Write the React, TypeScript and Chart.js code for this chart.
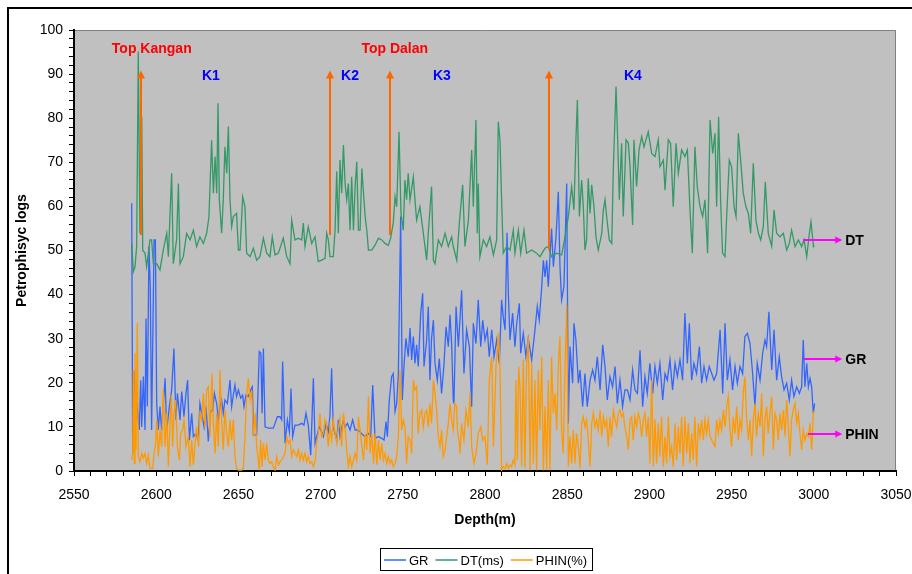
import React, { useEffect, useRef } from 'react';
import { Chart, registerables } from 'chart.js';

Chart.register(...registerables);

// ---------- axes ----------
const X_MIN = 2550;
const X_MAX = 3050;
const X_STEP = 10;
const X_LABEL_EVERY = 50;
const Y_MIN = 0;
const Y_MAX = 100;
const Y_STEP = 2;
const Y_LABEL_EVERY = 10;

// ---------- series ----------
const SERIES_LABELS = ['GR', 'DT(ms)', 'PHIN(%)'];
const SERIES_COLORS = ['#3366FF', '#339966', '#FF9900'];

// [depth (m), value]
const GR_POINTS = [
  [2585.1,60.7],[2585.7,4],[2586.5,22.9],[2587.5,11.6],[2588.5,14.6],[2589.7,9.3],[2590.6,20.6],[2591.2,10],[2592.2,21.4],[2593.2,9.3],[2593.8,34.6],[2594.6,14.6],[2595.6,50.9],[2596.4,41.8],[2597.2,9.3],[2598.7,52.4],[2599.5,52.4],[2600.3,15.3],[2601.3,9.3],[2602.3,14.6],[2603.3,9.3],[2605.4,21],[2606.4,9.3],[2608,14.6],[2609.4,18.4],[2610.8,27.8],[2612,11.6],[2612.9,17.6],[2614.5,11.6],[2615.5,18],[2616.9,12.3],[2618.1,17.6],[2619.1,20.6],[2620.2,7],[2621.6,13.1],[2622.6,7.8],[2624.2,8.5],[2625.6,7],[2626.6,15.3],[2627.7,13.1],[2629.1,10],[2630.3,14.6],[2631.7,6.7],[2633.1,13.5],[2634.4,13.8],[2635.4,17.6],[2636.8,15.3],[2637.8,11.6],[2638.8,14.6],[2639.8,16.1],[2640.8,13.1],[2641.8,16.1],[2643.3,15.3],[2644.9,20.6],[2645.9,14.6],[2646.9,17.2],[2647.9,19.5],[2648.9,16.9],[2650,18.4],[2651.4,16.5],[2652.6,17.2],[2653.4,14.6],[2654.6,17.2],[2656,16.9],[2657.5,18.4],[2658.5,19.1],[2659.1,8.2],[2661.1,8.2],[2662.7,27.1],[2663.7,26.7],[2664.4,13.1],[2665.2,27.8],[2666.2,10],[2668.2,9.7],[2671.2,9.7],[2672.3,10.8],[2673.7,12.3],[2675.3,12.3],[2676.3,11.6],[2676.9,24.8],[2678.4,6.3],[2679.8,11.6],[2681,8.9],[2682,18.7],[2683,7.8],[2684.4,10.4],[2686.5,10.4],[2688.5,10.8],[2689.9,10.4],[2691.1,13.1],[2692.5,10.4],[2694,3.6],[2695.6,21],[2696.6,6.3],[2697.6,7.8],[2699.2,10],[2700.6,8.9],[2701.7,7.8],[2703.3,10.8],[2704.7,8.9],[2705.7,12.7],[2706.7,23.3],[2707.7,10],[2709.8,7],[2710.8,11.6],[2711.8,7.8],[2713.9,11.6],[2714.9,10],[2716.3,10.8],[2717.9,9.3],[2719.5,11.6],[2721,9.3],[2722.3,9.3],[2724,8.9],[2725.6,8.2],[2727.1,7.8],[2729.1,8.5],[2730.5,7.8],[2731.7,19.5],[2733.1,7.4],[2735.2,7.8],[2737.2,7.4],[2738.6,7],[2739.8,11.2],[2740.6,7.8],[2741.8,16.1],[2743.2,21.4],[2744.2,22.1],[2745.3,13.5],[2746.3,15.3],[2747.3,22.1],[2748.7,57.7],[2749.7,16.1],[2750.7,23.7],[2751.9,30.1],[2753.3,25.9],[2754.4,32.4],[2755.4,25.2],[2756.4,30.5],[2757.4,24.4],[2758.4,28.6],[2759.4,23.7],[2760.9,35.8],[2762.1,40.3],[2762.9,23.7],[2764.5,29.7],[2765.5,37.3],[2766.5,20.6],[2767.5,30.1],[2768.6,34.2],[2769.6,24.4],[2771,20.6],[2772.2,25.5],[2773.6,17.6],[2775.1,24.4],[2776.3,32.7],[2777.7,28.2],[2778.7,35.4],[2779.7,28.9],[2780.7,16.1],[2781.1,15.3],[2782.4,37.3],[2783.8,28.2],[2785.8,41],[2787.2,22.1],[2788.8,32],[2790.5,28.2],[2791.9,14.6],[2792.9,33.5],[2794.5,28.9],[2795.9,38.8],[2797.4,28.2],[2798.6,34.2],[2800,29.7],[2801.4,32],[2802.6,25.9],[2804.1,32],[2805.5,25.9],[2807.1,29.7],[2808.7,24.4],[2810.1,38.8],[2811.1,35],[2812.2,32],[2813.4,54],[2814.2,40.3],[2815.2,29.7],[2816.8,35.8],[2818.2,28.2],[2819.3,33.5],[2820.9,38],[2821.7,26.7],[2823.3,31.2],[2824.9,25.9],[2826.3,30.1],[2828.4,25.2],[2830.4,32],[2831.8,37.3],[2833,34.2],[2834.5,41.8],[2835.5,47.8],[2836.5,44],[2837.5,47.8],[2838.5,41.8],[2840.5,55],[2841.6,46.3],[2843.2,53.1],[2844.6,63.3],[2845.6,46.3],[2846.6,38.8],[2848,41.8],[2849.7,65.2],[2850.7,10.8],[2851.7,28.2],[2853.3,19.9],[2854.1,33.5],[2855.3,29.7],[2856.8,19.9],[2857.8,22.9],[2859.4,14.6],[2860.8,22.1],[2862.2,14.6],[2863.9,20.6],[2865.5,22.9],[2866.9,20.6],[2868.3,25.9],[2870,18.4],[2871.6,28.6],[2873,23.7],[2874.4,16.1],[2876,21.4],[2877.6,19.1],[2879.1,23.7],[2880.5,15.3],[2882.1,20.6],[2883.7,14.6],[2885.1,18.4],[2886.6,18.4],[2888.2,16.1],[2889.8,22.9],[2891.2,18.4],[2892.7,17.6],[2894.3,27.4],[2895.9,14.6],[2897.3,21.4],[2898.7,17.6],[2900.3,24.4],[2902,17.6],[2903.4,23.7],[2904.8,19.9],[2906.4,24.4],[2908.1,16.1],[2909.5,22.1],[2910.9,20.6],[2912.5,25.2],[2914.1,18.4],[2915.6,24.4],[2917,21.4],[2918.6,25.2],[2920.2,20.6],[2921.6,35.8],[2923.1,24.4],[2924.3,33.5],[2925.7,20.6],[2927.1,24.4],[2928.7,22.1],[2930.4,28.2],[2931.8,19.9],[2933.2,23.7],[2934.8,20.6],[2936.4,23.7],[2937.9,22.1],[2939.3,20.6],[2940.9,22.1],[2943,32],[2944.6,17.6],[2946,33.5],[2947.4,20.6],[2949,25.2],[2950.6,18.4],[2952.1,23.7],[2953.5,19.9],[2955.1,23.7],[2956.7,22.1],[2958.1,30.5],[2959.6,31.2],[2961.2,28.9],[2962.8,22.1],[2964.2,14.6],[2965.6,24.4],[2967.3,20.6],[2968.9,26.7],[2970.3,29.7],[2971.3,28.2],[2972.7,36.1],[2974.4,22.9],[2975.8,32],[2977.4,20.6],[2979,25.9],[2980.4,21.4],[2981.9,18.4],[2983.5,19.9],[2985.1,16.1],[2986.5,20.6],[2987.9,16.9],[2989.6,19.1],[2991.2,17.6],[2992.6,19.1],[2993.6,29.7],[2994.6,19.1],[2995.7,24.4],[2996.7,19.1],[2997.7,21],[2998.7,19.1],[2999.7,13.1],[3000.5,15.3]
];

const DT_POINTS = [
  [2585.1,51.6],[2586.1,45.2],[2587.1,46.3],[2588.1,50.9],[2589.1,95.1],[2590.1,53.9],[2591.2,80.3],[2591.8,50],[2593.2,49.4],[2594.2,46.3],[2596.2,52.4],[2597.2,52.4],[2598.3,47],[2600.3,47],[2602.3,45.6],[2604.3,50.1],[2606.4,53.9],[2607.4,48.6],[2609.4,67.5],[2610.4,47],[2612.4,52.4],[2613.5,65.2],[2614.5,47],[2616.5,48.6],[2618.5,53.9],[2620.6,52.4],[2622.6,54.6],[2624.6,50.9],[2626.6,53.1],[2628.7,51.6],[2630.7,53.9],[2632.1,57.7],[2633.7,75],[2634.8,63],[2635.8,71.3],[2636.8,63],[2637.6,83.4],[2638.4,61.5],[2639.8,53.9],[2640.8,61.5],[2641.8,73.5],[2642.9,67.5],[2643.9,78.1],[2644.9,61.5],[2645.9,55.4],[2646.9,57.7],[2648.9,58.4],[2650,50.1],[2651,50.1],[2652.6,62.2],[2654,59.9],[2655,49.4],[2657.1,48.6],[2659.1,50.5],[2661.1,47.8],[2663.1,48.6],[2665.2,52.8],[2667.2,49.4],[2669.2,48.6],[2670.6,53.1],[2672.3,49],[2674.3,49.4],[2677.3,52.8],[2679.4,48.6],[2681.4,47],[2682.4,56.9],[2684.4,52.4],[2686.5,52.8],[2688.5,52.4],[2689.5,56.2],[2690.5,50.9],[2692.5,55.4],[2694.6,51.6],[2696.6,53.1],[2698.6,47.5],[2700.6,47.8],[2702.7,48.2],[2703.7,53.9],[2704.7,52.4],[2705.7,48.6],[2707.7,48.6],[2708.8,54.6],[2709.8,67.9],[2710.8,53.9],[2711.8,70.5],[2712.8,63],[2713.9,73.9],[2714.9,65.2],[2715.9,61.5],[2716.9,65.2],[2717.9,54.6],[2718.9,66.7],[2720,54.6],[2721,64.5],[2722,70.1],[2723,54.6],[2724,54.6],[2725.1,68.6],[2726.1,63],[2727.1,57.7],[2728.1,54.6],[2729.1,50.1],[2731.1,50.1],[2733.1,51.2],[2735.2,52.8],[2737.2,52.4],[2739.2,51.6],[2741.2,51.2],[2742.6,52.8],[2744.2,56.2],[2745.3,62.2],[2746.3,59.9],[2747.7,76.9],[2748.9,58.4],[2750.3,54.6],[2751.3,66],[2752.3,61.5],[2753.3,67.5],[2754.4,61.5],[2756.4,66.7],[2757.4,61.5],[2758.4,56.9],[2760.4,59.9],[2762.5,53.9],[2764.5,47.8],[2765.5,53.9],[2767.5,64.5],[2768.6,47.8],[2769.6,47],[2771.6,52.4],[2773.6,50.9],[2775.7,53.9],[2777.7,50.9],[2779.7,53.1],[2780.7,50.9],[2782.8,47.8],[2784.4,56.2],[2786.4,64.9],[2787.8,50.9],[2789.9,56.9],[2791.9,72.8],[2792.9,59.9],[2794.5,79.6],[2795.3,53.9],[2795.9,65.2],[2796.9,48.6],[2799,52.4],[2801,50.9],[2803,53.1],[2805.1,49],[2807.1,52.4],[2808.1,79.2],[2809.1,75.1],[2810.1,61.5],[2811.1,49.4],[2813.2,50.9],[2815.2,50.1],[2817.2,54.6],[2818.2,49.4],[2820.3,54.6],[2821.7,49.4],[2823.7,54.6],[2825.3,49.4],[2828.4,50.1],[2831.4,49.4],[2833.4,48.6],[2836.5,50.5],[2838.5,50.9],[2840.5,48.6],[2843.6,49.4],[2846.6,49],[2848.7,53.1],[2850.7,57.7],[2852.7,64.5],[2854.1,59.2],[2855.3,75.1],[2856.2,84.1],[2857.4,57.7],[2858.8,66],[2859.8,59.9],[2860.8,50.1],[2861.8,52.4],[2862.8,66.4],[2863.9,58.4],[2864.9,64.9],[2866.3,59.9],[2867.5,53.1],[2868.9,50.1],[2871,53.9],[2872,59.2],[2873,61.5],[2874,57.7],[2875.6,52.4],[2877.1,51.6],[2878.1,69],[2879.7,87.2],[2880.7,75.1],[2881.7,61.5],[2883.1,74.3],[2884.1,57.7],[2885.8,75.1],[2887.2,74.3],[2888.2,69],[2889.8,55.8],[2890.6,75.1],[2892.2,64.5],[2893.7,72.8],[2895.3,75.8],[2896.7,73.5],[2899.3,76.9],[2901.4,72],[2903.4,71.3],[2905.4,75.1],[2906.4,69],[2908.5,70.5],[2909.5,63.7],[2911.5,75.1],[2912.9,74.3],[2914.5,59.9],[2916.2,74.3],[2917.6,67.5],[2919.6,72.8],[2921.6,71.3],[2923.1,72.8],[2924.7,59.2],[2926.1,49.4],[2927.7,73.5],[2929.1,64.5],[2930.8,59.9],[2932.4,57.7],[2933.8,61.5],[2935.4,49.4],[2936.9,79.6],[2938.5,72],[2939.9,76.6],[2940.9,59.9],[2942.1,80.3],[2943.3,61.5],[2944.5,49.4],[2946,48.6],[2947,57.7],[2948.6,70.5],[2950,69],[2951.5,59.9],[2952.7,57.7],[2954.1,76.6],[2955.5,70.5],[2957.1,63],[2958.7,59.9],[2960.2,58.4],[2961.6,53.9],[2963.2,69.8],[2964.8,56.9],[2966.3,53.9],[2967.7,52.4],[2969.3,55.4],[2970.5,65.6],[2972.3,53.9],[2974.4,50.9],[2975.8,59.2],[2977.4,53.9],[2979.4,53.1],[2981.5,53.9],[2983.5,50.1],[2985.1,51.6],[2986.5,54.6],[2988.6,50.9],[2990.6,52.4],[2992.6,50.9],[2994.1,52.4],[2995.7,48.6],[2997.3,53.9],[2998.3,56.5],[2999.8,50.9],[3000.3,51.2]
];

const PHIN_POINTS = [
  [2585.1,2.5],[2585.7,4],[2586.1,22.9],[2586.7,1.7],[2587.1,26.7],[2587.7,4.8],[2588.5,33.5],[2589.1,3.3],[2590.1,2.1],[2591.2,4],[2592.2,2.9],[2593.2,4],[2594.2,1.7],[2595.2,3.6],[2596.2,0.6],[2597.9,0.6],[2598.7,4],[2599.7,6.3],[2600.3,11.6],[2601.3,3.3],[2602.3,9.3],[2603.3,5.5],[2604.3,18.4],[2605.4,5.5],[2606.4,13.1],[2607.4,1],[2608.4,10.8],[2609.2,17.2],[2610,5.5],[2610.8,13.1],[2611.8,16.1],[2612.9,5.5],[2614.1,2.5],[2614.9,8.5],[2616.1,9.3],[2616.9,11.6],[2618.1,5.5],[2619.5,7.8],[2620.6,1],[2621.6,7],[2622.6,1.4],[2623.6,6.3],[2624.6,10],[2625.8,5.5],[2626.6,13.1],[2627.7,11.6],[2628.7,17.6],[2629.7,10],[2630.7,18.4],[2631.7,19.1],[2632.7,7.8],[2633.9,22.1],[2634.8,10.8],[2635.8,4],[2636.8,13.1],[2637.8,5.5],[2638.8,22.9],[2639.8,11.6],[2640.8,4.8],[2641.8,13.8],[2642.9,8.5],[2643.9,5.5],[2644.9,11.6],[2645.9,7],[2646.9,11.6],[2647.9,3.3],[2648.9,0.6],[2650,0.2],[2652,0.2],[2653,0.6],[2654,7.8],[2655,16.9],[2656,21],[2657.1,16.1],[2658.1,18.4],[2659.1,7.8],[2660.3,13.1],[2661.1,5.5],[2662.1,2.5],[2662.7,0.2],[2663.5,7],[2664.4,1],[2665.2,6.3],[2666.2,2.5],[2667.2,6.3],[2668.2,2.5],[2669.2,1.7],[2670.2,2.1],[2671.2,1],[2672.3,0.2],[2673.3,3.3],[2674.3,1.4],[2675.3,2.1],[2676.3,2.5],[2677.3,3.3],[2678.4,4],[2679.4,7.8],[2680.4,6.3],[2681.4,7],[2682.4,3.3],[2683.4,4.8],[2684.4,4],[2685.4,3.3],[2686.5,4.8],[2687.5,2.5],[2688.5,4],[2689.5,2.5],[2690.5,4],[2691.5,2.1],[2692.5,3.3],[2693.6,1.7],[2694.6,2.1],[2695.6,1],[2696.6,2.1],[2697.6,6.3],[2698.6,8.5],[2699.6,13.1],[2700.6,7.8],[2701.7,8.5],[2702.7,11.6],[2703.7,10],[2704.7,5.5],[2705.7,10],[2706.7,7],[2707.7,11.6],[2708.8,8.5],[2709.8,6.3],[2710.8,10],[2711.8,11.9],[2712.8,5.5],[2713.9,13.1],[2714.9,10],[2715.9,4.8],[2716.9,1],[2717.9,3.3],[2718.9,1],[2720,2.5],[2721,4],[2722,2.5],[2723,12.3],[2724,9.3],[2725.1,5.5],[2726.1,2.5],[2727.1,8.5],[2728.1,4.8],[2729.1,16.9],[2730.1,4],[2731.1,8.5],[2732.2,1.7],[2733.1,8.5],[2734.2,1.4],[2735.2,7],[2736.2,2.5],[2737.2,6.3],[2738.2,2.5],[2739.2,4],[2740.2,1.7],[2741.2,3.3],[2742.2,1.7],[2743.2,2.5],[2744.2,1],[2745.3,1.7],[2746.3,3.3],[2747.3,7.8],[2748.3,22.9],[2749.3,9.3],[2750.3,11.6],[2751.3,10],[2752.3,1.7],[2753.3,7.8],[2754.4,7],[2755.4,4],[2756.4,20.6],[2757.4,18.4],[2758.4,19.1],[2759.4,8.5],[2760.4,13.1],[2761.5,13.8],[2762.5,10],[2763.5,13.1],[2764.5,13.8],[2765.5,10],[2766.5,15.3],[2767.5,10.8],[2768.6,20.6],[2769.6,17.6],[2770.6,13.8],[2771.6,7.8],[2772.6,5.5],[2773.6,9.3],[2774.6,3.3],[2775.7,4.8],[2776.7,7.8],[2777.7,10.8],[2778.7,15.3],[2779.7,11.6],[2780.7,9.3],[2781.7,15.3],[2782.7,14.6],[2783.2,9.3],[2784.4,6.3],[2784.8,4],[2785.8,10.8],[2787.2,7],[2788.4,13.8],[2789.9,10],[2790.9,17.6],[2791.9,5.5],[2793.3,1.7],[2794.5,4],[2795.9,8.5],[2797.4,10],[2798.6,7],[2800,7.8],[2801.4,1.4],[2802.6,20.6],[2804.1,25.9],[2805.1,5.5],[2806.7,23.7],[2808.1,31.2],[2809.1,23.7],[2810.1,0.2],[2811.1,1],[2812.2,0.6],[2813.2,1.7],[2814.2,0.6],[2815.2,1.4],[2816.2,1],[2817.2,2.5],[2818.2,1.4],[2818.8,20.6],[2819.7,2.5],[2820.5,23.7],[2821.3,19.1],[2822.3,1],[2823.3,25.2],[2824.3,0.6],[2825.3,23.7],[2826.3,30.5],[2827.4,0.2],[2828.4,24.4],[2829.4,1.7],[2830.4,20.6],[2831.4,0.2],[2832.4,22.9],[2833.4,9.3],[2834.5,25.9],[2835.5,0.2],[2836.5,14.6],[2837.5,0.2],[2838.5,20.6],[2839.5,0.2],[2840.5,25.9],[2841.6,13.1],[2842.6,17.6],[2843.6,9.3],[2844.6,23.7],[2845.6,30.5],[2846.6,9.3],[2847.6,4],[2848.7,23.7],[2849.7,37.6],[2850.7,1],[2851.7,7.8],[2852.7,1.7],[2853.7,9.3],[2854.7,1.7],[2855.7,8.5],[2856.8,5.5],[2857.8,0.6],[2858.8,10.8],[2859.8,12.3],[2860.8,10],[2861.8,11.6],[2862.8,7],[2863.9,1],[2864.9,10.8],[2865.9,13.1],[2866.9,10],[2867.9,11.6],[2868.9,9.3],[2870,13.8],[2871,7.8],[2872,12.3],[2873,10],[2874,11.6],[2875,5.5],[2876,12.3],[2877,7.8],[2878.1,13.8],[2879.1,11.6],[2880.1,10],[2881.1,13.1],[2882.1,13.8],[2883.1,12.3],[2884.1,13.1],[2885.1,10],[2886.2,7.8],[2887.2,4.8],[2888.2,11.6],[2889.2,12.3],[2890.2,7],[2891.2,12.3],[2892.2,10],[2893.3,13.1],[2894.3,11.6],[2895.3,7.8],[2896.3,11.6],[2897.3,13.1],[2898.3,7.8],[2899.3,12.3],[2900.3,1.7],[2901.4,20.6],[2902.4,1],[2903.4,11.6],[2904.4,1.7],[2905.4,10.8],[2906.4,3.3],[2907.4,12.3],[2908.5,1],[2909.5,7.8],[2910.5,1.7],[2911.5,12.3],[2912.5,3.3],[2913.5,5.5],[2914.5,1],[2915.6,10.8],[2916.6,2.5],[2917.6,10],[2918.6,4],[2919.6,12.3],[2920.6,1],[2921.6,12.3],[2922.7,4],[2923.7,10.8],[2924.7,1.7],[2925.7,8.5],[2926.7,2.5],[2927.7,12.3],[2928.7,1],[2929.8,10.8],[2930.8,7.8],[2931.8,11.6],[2932.8,7],[2933.8,11.6],[2934.8,8.5],[2935.8,11.6],[2936.9,7.8],[2937.9,7],[2938.9,6.3],[2939.9,5.5],[2940.9,11.6],[2941.9,8.5],[2942.9,11.6],[2943.9,9.3],[2945,13.8],[2946,10],[2947,14.6],[2948,16.9],[2949,9.3],[2950,5.5],[2951,12.3],[2952,8.5],[2953.1,14.6],[2954.1,7],[2955.1,11.6],[2956.1,9.3],[2957.1,17.6],[2958.1,21.4],[2959.1,12.3],[2960.2,7],[2961.2,11.6],[2962.2,3.3],[2963.2,11.6],[2964.2,15.3],[2965.2,7.8],[2966.2,13.1],[2967.3,10],[2968.3,17.6],[2969.3,3.3],[2970.3,11.6],[2971.3,14.6],[2972.3,8.5],[2973.3,13.1],[2974.4,16.9],[2975.4,4.8],[2976.4,13.1],[2977.4,11.6],[2978.4,7],[2979.4,13.1],[2980.4,9.3],[2981.5,13.8],[2982.5,7.8],[2983.5,16.1],[2984.5,10],[2985.5,3.3],[2986.5,11.6],[2987.5,13.8],[2988.6,15.3],[2989.6,10.8],[2990.6,13.1],[2991.6,8.5],[2992.6,4.8],[2993.6,9.3],[2994.6,7],[2995.7,8.5],[2996.7,7.8],[2997.7,10.8],[2998.7,4.8],[2999.7,13.1],[3000.5,13.8]
];

// ---------- annotations (data coordinates) ----------
const MARKER_DEPTHS = [2591, 2705.5, 2742.5, 2839];
const MARKER_BASES = [53.5, 53.5, 53.5, 50.3];
const MARKER_TOP = 90.8;

const TOP_LABELS = ['Top Kangan', 'Top Dalan'];
const TOP_LABEL_DEPTHS = [2597.3, 2745.1];
const TOP_LABEL_VALUE = 95.7;

const ZONE_LABELS = ['K1', 'K2', 'K3', 'K4'];
const ZONE_DEPTHS = [2633.3, 2717.9, 2773.8, 2890];
const ZONE_VALUE = 89.6;

const CURVE_TAGS = ['DT', 'GR', 'PHIN'];
const CURVE_TAG_VALUES = [52.3, 25.3, 8.4];
const CURVE_TAG_STARTS = [2993.5, 2994, 2996.5];
const CURVE_TAG_END = 3017.3;

const FONT = '"Liberation Sans", Arial, sans-serif';

const toXY = (pts: number[][]) => pts.map(([x, y]) => ({ x, y }));

function arrowUp(ctx: CanvasRenderingContext2D, x: number, y0: number, y1: number, color: string) {
  ctx.save();
  ctx.strokeStyle = color;
  ctx.fillStyle = color;
  ctx.lineWidth = 2;
  ctx.beginPath();
  ctx.moveTo(x, y0);
  ctx.lineTo(x, y1 + 6);
  ctx.stroke();
  ctx.beginPath();
  ctx.moveTo(x, y1);
  ctx.lineTo(x - 4, y1 + 8);
  ctx.lineTo(x + 4, y1 + 8);
  ctx.closePath();
  ctx.fill();
  ctx.restore();
}

function arrowRight(ctx: CanvasRenderingContext2D, x0: number, x1: number, y: number, color: string) {
  ctx.save();
  ctx.strokeStyle = color;
  ctx.fillStyle = color;
  ctx.lineWidth = 2;
  ctx.beginPath();
  ctx.moveTo(x0, y);
  ctx.lineTo(x1 - 5, y);
  ctx.stroke();
  ctx.beginPath();
  ctx.moveTo(x1, y);
  ctx.lineTo(x1 - 7, y - 3.5);
  ctx.lineTo(x1 - 7, y + 3.5);
  ctx.closePath();
  ctx.fill();
  ctx.restore();
}

const decorPlugin = {
  id: 'decor',
  beforeDraw(chart: any) {
    const { ctx, chartArea: a, width, height } = chart;
    ctx.save();
    ctx.fillStyle = '#FFFFFF';
    ctx.fillRect(0, 0, width, height);
    // outer frame
    ctx.strokeStyle = '#000000';
    ctx.lineWidth = 2;
    ctx.beginPath();
    ctx.moveTo(8, height);
    ctx.lineTo(8, 8);
    ctx.lineTo(width, 8);
    ctx.stroke();
    // plot background
    ctx.fillStyle = '#C0C0C0';
    ctx.fillRect(a.left, a.top, a.right - a.left, a.bottom - a.top);
    ctx.strokeStyle = '#808080';
    ctx.lineWidth = 1;
    ctx.beginPath();
    ctx.moveTo(a.left, a.top + 0.5);
    ctx.lineTo(a.right - 0.5, a.top + 0.5);
    ctx.lineTo(a.right - 0.5, a.bottom);
    ctx.stroke();
    ctx.restore();
  },
  afterDatasetsDraw(chart: any) {
    const { ctx } = chart;
    const xs = chart.scales.x;
    const ys = chart.scales.y;
    MARKER_DEPTHS.forEach((d, i) => {
      const px = Math.round(xs.getPixelForValue(d));
      arrowUp(ctx, px, ys.getPixelForValue(MARKER_BASES[i]), ys.getPixelForValue(MARKER_TOP), '#FF6600');
    });
    ctx.save();
    ctx.textAlign = 'center';
    ctx.textBaseline = 'middle';
    ctx.font = `bold 14px ${FONT}`;
    ctx.fillStyle = '#FF0000';
    TOP_LABELS.forEach((t, i) => {
      ctx.fillText(t, xs.getPixelForValue(TOP_LABEL_DEPTHS[i]), ys.getPixelForValue(TOP_LABEL_VALUE));
    });
    ctx.fillStyle = '#0000FF';
    ZONE_LABELS.forEach((t, i) => {
      ctx.fillText(t, xs.getPixelForValue(ZONE_DEPTHS[i]), ys.getPixelForValue(ZONE_VALUE));
    });
    ctx.restore();
    CURVE_TAGS.forEach((t, i) => {
      const y = Math.round(ys.getPixelForValue(CURVE_TAG_VALUES[i]));
      const x1 = xs.getPixelForValue(CURVE_TAG_END);
      arrowRight(ctx, xs.getPixelForValue(CURVE_TAG_STARTS[i]), x1, y, '#FF00FF');
      ctx.save();
      ctx.font = `bold 14px ${FONT}`;
      ctx.fillStyle = '#000000';
      ctx.textAlign = 'left';
      ctx.textBaseline = 'middle';
      ctx.fillText(t, x1 + 3, y + 1);
      ctx.restore();
    });
  },
  afterDraw(chart: any) {
    const { ctx } = chart;
    const ds = chart.data.datasets;
    ctx.save();
    ctx.font = `13px ${FONT}`;
    const lineLen = 22;
    const gapLT = 3;
    const gapItem = 7;
    const widths = ds.map((d: any) => ctx.measureText(d.label).width);
    const total = widths.reduce((s: number, w: number) => s + lineLen + gapLT + w, 0) + gapItem * (ds.length - 1);
    const cx = 486;
    const cy = 560;
    const padX = 4;
    const left = Math.round(cx - total / 2 - padX);
    const right = Math.round(cx + total / 2 + padX);
    ctx.fillStyle = '#FFFFFF';
    ctx.fillRect(left, 549, right - left, 22);
    ctx.strokeStyle = '#000000';
    ctx.lineWidth = 1;
    ctx.strokeRect(left + 0.5, 548.5, right - left, 22);
    let x = left + padX;
    ds.forEach((d: any, i: number) => {
      ctx.strokeStyle = d.borderColor;
      ctx.lineWidth = 1.5;
      ctx.beginPath();
      ctx.moveTo(x, cy);
      ctx.lineTo(x + lineLen, cy);
      ctx.stroke();
      x += lineLen + gapLT;
      ctx.fillStyle = '#000000';
      ctx.textAlign = 'left';
      ctx.textBaseline = 'middle';
      ctx.fillText(d.label, x, cy + 1);
      x += widths[i] + gapItem;
    });
    ctx.restore();
  },
};

export default function App() {
  const canvasRef = useRef<HTMLCanvasElement>(null);

  useEffect(() => {
    if (!canvasRef.current) return;
    const seriesPoints = [GR_POINTS, DT_POINTS, PHIN_POINTS];
    const orders = [2, 1, 0];
    const chart = new Chart(canvasRef.current, {
      type: 'line',
      data: {
        datasets: SERIES_LABELS.map((label, i) => ({
          label,
          data: toXY(seriesPoints[i]),
          borderColor: SERIES_COLORS[i],
          backgroundColor: SERIES_COLORS[i],
          borderWidth: 1.3,
          pointRadius: 0,
          tension: 0,
          fill: false,
          order: orders[i],
        })),
      },
      options: {
        responsive: false,
        animation: false,
        devicePixelRatio: 1,
        layout: { padding: { left: 0, top: 30, right: 16, bottom: 0 } },
        plugins: {
          legend: { display: false },
          tooltip: { enabled: false },
          title: { display: false },
        },
        scales: {
          x: {
            type: 'linear',
            min: X_MIN,
            max: X_MAX,
            afterFit: (s: any) => { s.height = 103; s.paddingLeft = 0; s.paddingRight = 0; },
            border: { display: true, color: '#000000', width: 2 },
            grid: { display: true, drawOnChartArea: false, drawTicks: true, tickLength: 5, tickColor: '#000000', tickWidth: 1 },
            ticks: {
              stepSize: X_STEP,
              autoSkip: false,
              maxRotation: 0,
              minRotation: 0,
              padding: 11,
              color: '#000000',
              font: { family: FONT, size: 14 },
              callback: (v: any) => (Number(v) % X_LABEL_EVERY === 0 ? String(v) : ''),
            },
            title: {
              display: true,
              text: 'Depth(m)',
              color: '#000000',
              font: { family: FONT, size: 14, weight: 'bold' },
              padding: { top: 0, bottom: 45 },
            },
          },
          y: {
            type: 'linear',
            min: Y_MIN,
            max: Y_MAX,
            afterFit: (s: any) => { s.width = 74; s.paddingTop = 0; s.paddingBottom = 0; },
            border: { display: true, color: '#000000', width: 2 },
            grid: { display: true, drawOnChartArea: false, drawTicks: true, tickLength: 5, tickColor: '#000000', tickWidth: 1 },
            ticks: {
              stepSize: Y_STEP,
              autoSkip: false,
              padding: 6,
              color: '#000000',
              font: { family: FONT, size: 14 },
              callback: (v: any) => (Number(v) % Y_LABEL_EVERY === 0 ? String(v) : ''),
            },
            title: {
              display: true,
              text: 'Petrophisyc logs',
              color: '#000000',
              font: { family: FONT, size: 14, weight: 'bold' },
              padding: { top: 14, bottom: 0 },
            },
          },
        },
      },
      plugins: [decorPlugin],
    } as any);
    return () => chart.destroy();
  }, []);

  return (
    <div style={{ position: 'absolute', left: 0, top: 0, width: 912, height: 574, background: '#FFFFFF' }}>
      <canvas ref={canvasRef} width={912} height={574} style={{ display: 'block', width: 912, height: 574 }} />
    </div>
  );
}
